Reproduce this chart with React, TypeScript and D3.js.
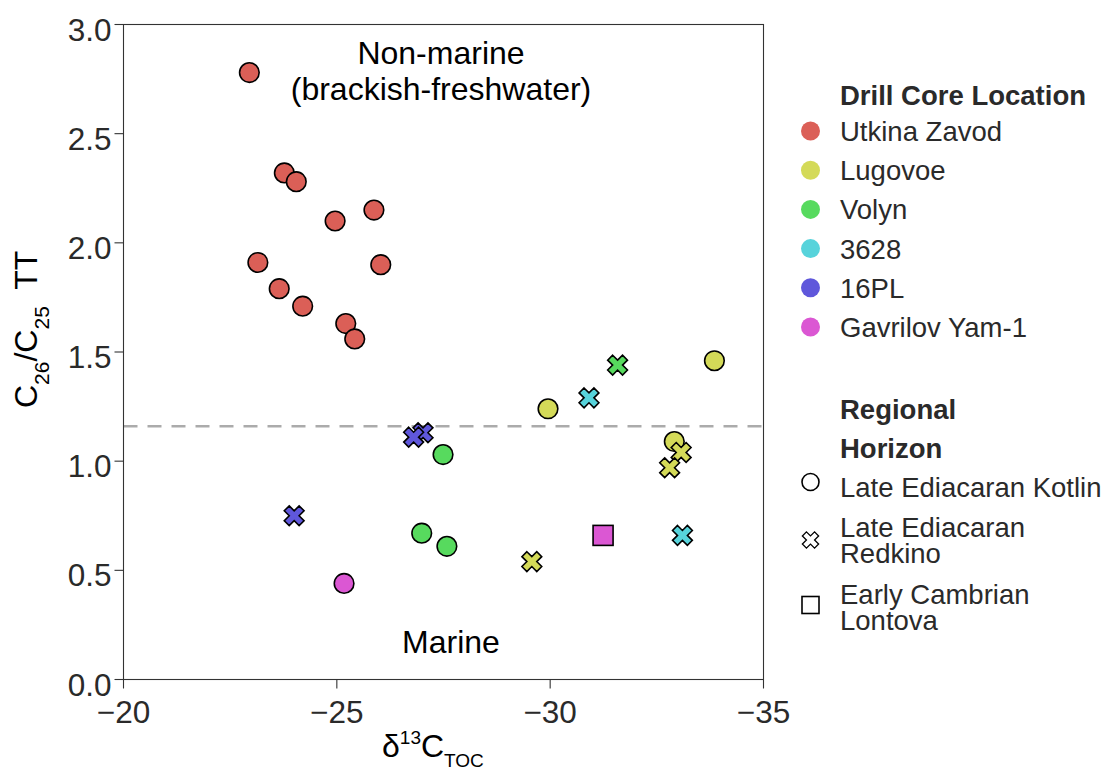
import React from "react";
import * as d3 from "d3";

// Drill core locations and their fill colours
const locations = ["Utkina Zavod", "Lugovoe", "Volyn", "3628", "16PL", "Gavrilov Yam-1"];
const locationColors = ["#DB5F57", "#D4DA58", "#57DA5E", "#57D3DB", "#5F57DB", "#DB57D3"];

// Regional horizons (shape encoding)
const horizons = ["Kotlin", "Redkino", "Lontova"];
const horizonLabels = [["Late Ediacaran Kotlin"], ["Late Ediacaran", "Redkino"], ["Early Cambrian", "Lontova"]];

// Samples per location: [δ13C TOC, C26/C25 TT, horizon]
const utkinaZavod: [number, number, string][] = [
  [-22.95, 2.78, "Kotlin"],
  [-23.77, 2.32, "Kotlin"],
  [-24.05, 2.28, "Kotlin"],
  [-24.96, 2.1, "Kotlin"],
  [-25.87, 2.15, "Kotlin"],
  [-23.15, 1.91, "Kotlin"],
  [-26.03, 1.9, "Kotlin"],
  [-23.65, 1.79, "Kotlin"],
  [-24.2, 1.71, "Kotlin"],
  [-25.21, 1.63, "Kotlin"],
  [-25.42, 1.56, "Kotlin"],
];
const lugovoe: [number, number, string][] = [
  [-29.95, 1.24, "Kotlin"],
  [-33.85, 1.46, "Kotlin"],
  [-32.91, 1.09, "Kotlin"],
  [-33.07, 1.04, "Redkino"],
  [-32.8, 0.97, "Redkino"],
  [-29.57, 0.54, "Redkino"],
];
const volyn: [number, number, string][] = [
  [-27.49, 1.03, "Kotlin"],
  [-26.99, 0.67, "Kotlin"],
  [-27.58, 0.61, "Kotlin"],
  [-31.58, 1.44, "Redkino"],
];
const core3628: [number, number, string][] = [
  [-30.91, 1.29, "Redkino"],
  [-33.1, 0.66, "Redkino"],
];
const core16PL: [number, number, string][] = [
  [-27.02, 1.13, "Redkino"],
  [-26.8, 1.11, "Redkino"],
  [-24.0, 0.75, "Redkino"],
];
const gavrilovYam: [number, number, string][] = [
  [-25.17, 0.44, "Kotlin"],
  [-31.24, 0.66, "Lontova"],
];
const samplesByLocation = [utkinaZavod, lugovoe, volyn, core3628, core16PL, gavrilovYam];

// Axis ticks and threshold
const xTicks = [-20, -25, -30, -35];
const yTicks = [0, 0.5, 1.0, 1.5, 2.0, 2.5, 3.0];
const threshold = 1.16;

const W = 1108;
const H = 772;
const FONT = "'Liberation Sans', Arial, Helvetica, sans-serif";
const TEXT = "#2a2a2a";

const x = d3.scaleLinear().domain([-20, -35]).range([123.5, 763.5]);
const y = d3.scaleLinear().domain([0, 3]).range([679.5, 24.5]);

const crossPath = d3.symbol().type(d3.symbolCross).size(245)() as string;
const crossLegendPath = d3.symbol().type(d3.symbolCross).size(165)() as string;

function Marker({ cx, cy, shape, fill, legend }: { cx: number; cy: number; shape: string; fill: string; legend?: boolean }) {
  const sw = 1.6;
  if (shape === "Kotlin") {
    return <circle cx={cx} cy={cy} r={legend ? 8.5 : 9.8} fill={fill} stroke="#000" strokeWidth={sw} />;
  }
  if (shape === "Redkino") {
    return (
      <path
        d={legend ? crossLegendPath : crossPath}
        transform={`translate(${cx},${cy}) rotate(45)`}
        fill={fill}
        stroke="#000"
        strokeWidth={legend ? 1.3 : sw}
        strokeLinejoin="miter"
      />
    );
  }
  const s = legend ? 17 : 20;
  return <rect x={cx - s / 2} y={cy - s / 2} width={s} height={s} fill={fill} stroke="#000" strokeWidth={sw} />;
}

export default function App() {
  const [x0, x1] = x.range();
  const [y0, y1] = y.range();
  const legendDotY = d3.range(locations.length).map((i) => 131 + i * 39.2);
  const horizonY = [482, 540, 605];
  const horizonTextY = [[487], [527, 553], [594, 620]];

  return (
    <div style={{ position: "absolute", left: 0, top: 0 }}>
      <svg width={W} height={H} viewBox={`0 0 ${W} ${H}`} style={{ display: "block", background: "#fff" }} fontFamily={FONT}>
        <rect width={W} height={H} fill="#fff" />

        {/* threshold line */}
        <line x1={x0} x2={x1} y1={y(threshold)} y2={y(threshold)} stroke="#ababab" strokeWidth={2.5} strokeDasharray="14 10" />

        {/* panel border */}
        <rect x={x0} y={y1} width={x1 - x0} height={y0 - y1} fill="none" stroke="#333" strokeWidth={1.1} />

        {/* y axis */}
        {yTicks.map((t) => (
          <g key={`y${t}`}>
            <line x1={x0 - 9} x2={x0} y1={y(t)} y2={y(t)} stroke="#333" strokeWidth={1.1} />
            <text x={x0 - 12} y={y(t) + 16} textAnchor="end" fontSize={31.5} fill={TEXT}>
              {t.toFixed(1)}
            </text>
          </g>
        ))}

        {/* x axis */}
        {xTicks.map((t) => (
          <g key={`x${t}`}>
            <line x1={x(t)} x2={x(t)} y1={y0} y2={y0 + 9} stroke="#333" strokeWidth={1.1} />
            <text x={x(t)} y={723} textAnchor="middle" fontSize={31.5} fill={TEXT}>
              {"\u2212" + Math.abs(t)}
            </text>
          </g>
        ))}

        {/* axis titles */}
        <text x={382} y={757} fontSize={32} fill="#000">
          δ<tspan fontSize={19} dy={-13}>13</tspan>
          <tspan dy={13}>C</tspan>
          <tspan fontSize={19} dy={10}>TOC</tspan>
        </text>
        <text transform="translate(37,408) rotate(-90)" fontSize={32} fill="#000">
          C<tspan fontSize={21} dy={12}>26</tspan>
          <tspan dy={-12}>/C</tspan>
          <tspan fontSize={21} dy={12}>25</tspan>
          <tspan dy={-12} dx={8}> TT</tspan>
        </text>

        {/* region annotations */}
        <text x={441} y={64} textAnchor="middle" fontSize={32} fill="#000">Non-marine</text>
        <text x={441} y={100} textAnchor="middle" fontSize={32} fill="#000">(brackish-freshwater)</text>
        <text x={451} y={653} textAnchor="middle" fontSize={32} fill="#000">Marine</text>

        {/* samples */}
        {samplesByLocation.map((samples, li) =>
          samples.map(([d13c, tt, hz], i) => (
            <Marker key={`${li}-${i}`} cx={x(d13c)} cy={y(tt)} shape={hz} fill={locationColors[li]} />
          ))
        )}

        {/* legend: locations */}
        <text x={840} y={105} fontSize={27.5} fontWeight="bold" fill={TEXT}>Drill Core Location</text>
        {locations.map((name, i) => (
          <g key={name}>
            <circle cx={810.5} cy={legendDotY[i]} r={9.5} fill={locationColors[i]} />
            <text x={840} y={legendDotY[i] + 10} fontSize={27.5} fill={TEXT}>{name}</text>
          </g>
        ))}

        {/* legend: horizons */}
        <text x={840} y={419} fontSize={27.5} fontWeight="bold" fill={TEXT}>Regional</text>
        <text x={840} y={458} fontSize={27.5} fontWeight="bold" fill={TEXT}>Horizon</text>
        {horizons.map((hz, i) => (
          <g key={hz}>
            <Marker cx={810.5} cy={horizonY[i]} shape={hz} fill="#fff" legend />
            {horizonLabels[i].map((line, j) => (
              <text key={j} x={840} y={horizonTextY[i][j] + 10} fontSize={27.5} fill={TEXT}>{line}</text>
            ))}
          </g>
        ))}
      </svg>
    </div>
  );
}
